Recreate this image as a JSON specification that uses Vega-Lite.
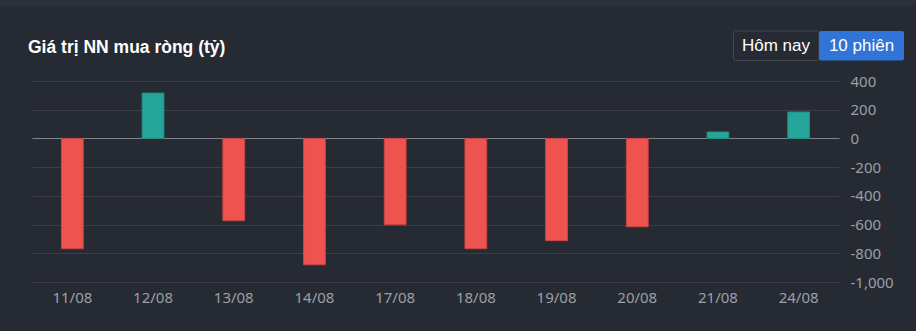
{
  "$schema": "https://vega.github.io/schema/vega-lite/v6.json",
  "width": 807,
  "height": 201,
  "autosize": {"type": "none"},
  "padding": {"left": 32, "top": 81, "right": 77, "bottom": 49},
  "background": "#262a33",
  "config": {
    "view": {"stroke": null},
    "font": "Noto Sans"
  },
  "layer": [
    {
      "data": {
        "values": [
          {"date": "11/08", "value": -768},
          {"date": "12/08", "value": 316},
          {"date": "13/08", "value": -573},
          {"date": "14/08", "value": -880},
          {"date": "17/08", "value": -601},
          {"date": "18/08", "value": -768},
          {"date": "19/08", "value": -712},
          {"date": "20/08", "value": -615},
          {"date": "21/08", "value": 45},
          {"date": "24/08", "value": 184}
        ]
      },
      "mark": {"type": "bar", "width": {"band": 0.27}, "strokeWidth": 1},
      "encoding": {
        "x": {
          "field": "date",
          "type": "ordinal",
          "sort": null,
          "scale": {"paddingInner": 0, "paddingOuter": 0},
          "axis": {
            "title": null,
            "orient": "bottom",
            "labelAngle": 0,
            "labelFont": "Noto Sans",
            "labelFontSize": 15,
            "labelColor": "#9c9fa6",
            "labelPadding": 8,
            "ticks": false,
            "domain": false,
            "grid": false
          }
        },
        "y": {
          "field": "value",
          "type": "quantitative",
          "scale": {"domain": [-1000, 400], "nice": false, "zero": true},
          "axis": {
            "title": null,
            "orient": "right",
            "values": [-1000, -800, -600, -400, -200, 0, 200, 400],
            "labelExpr": "replace(format(datum.value, ','), '\u2212', '-')",
            "labelFont": "Noto Sans",
            "labelFontSize": 15,
            "labelColor": "#9c9fa6",
            "labelPadding": 11,
            "ticks": false,
            "domain": false,
            "grid": true,
            "gridColor": {"condition": {"test": "datum.value === 0", "value": "#80848c"}, "value": "#3b3e47"},
            "gridWidth": 1
          }
        },
        "color": {
          "condition": {"test": "datum.value >= 0", "value": "#26a69a"},
          "value": "#ef5350"
        },
        "stroke": {
          "condition": {"test": "datum.value >= 0", "value": "#1f8c82"},
          "value": "#c84545"
        }
      }
    },
    {
      "data": {"values": [{}]},
      "mark": {"type": "rect", "x": -32, "x2": 884, "y": -81, "y2": -75, "fill": "#2c3039"},
      "encoding": {}
    },
    {
      "data": {"values": [{}]},
      "mark": {"type": "rule", "x": -32, "x2": 884, "y": -75, "stroke": "#40444e", "strokeWidth": 1},
      "encoding": {}
    },
    {
      "data": {"values": [{}]},
      "mark": {"type": "rule", "x": -32, "x2": 884, "y": 248, "stroke": "#4a4e57", "strokeWidth": 1},
      "encoding": {}
    },
    {
      "data": {"values": [{}]},
      "mark": {"type": "text", "text": "Giá trị NN mua ròng (tỷ)", "x": -4, "y": -28.5, "align": "left", "baseline": "alphabetic", "font": "Liberation Sans", "fontSize": 17.5, "fontWeight": "bold", "fill": "#ffffff"},
      "encoding": {}
    },
    {
      "data": {"values": [{}]},
      "mark": {"type": "rect", "x": 701.5, "x2": 787, "y": -50, "y2": -20.5, "fill": "#262a33", "stroke": "#41454f", "strokeWidth": 1, "cornerRadius": 2},
      "encoding": {}
    },
    {
      "data": {"values": [{}]},
      "mark": {"type": "rect", "x": 787, "x2": 872, "y": -50, "y2": -20.5, "fill": "#2f74d6", "cornerRadius": 2},
      "encoding": {}
    },
    {
      "data": {"values": [{}]},
      "mark": {"type": "text", "text": "Hôm nay", "x": 744, "y": -35, "align": "center", "baseline": "middle", "font": "Liberation Sans", "fontSize": 17, "fill": "#ffffff"},
      "encoding": {}
    },
    {
      "data": {"values": [{}]},
      "mark": {"type": "text", "text": "10 phiên", "x": 829.5, "y": -35, "align": "center", "baseline": "middle", "font": "Liberation Sans", "fontSize": 17, "fill": "#ffffff"},
      "encoding": {}
    }
  ]
}
